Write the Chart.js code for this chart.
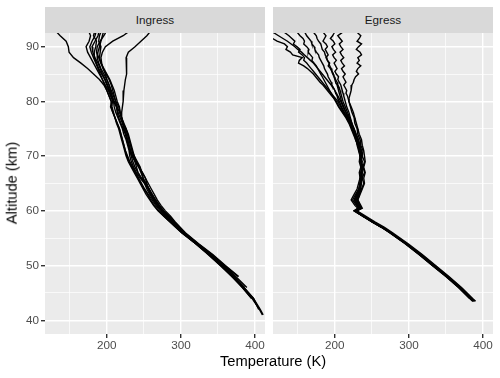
<!DOCTYPE html>
<html>
<head>
<meta charset="utf-8">
<script src="https://cdn.jsdelivr.net/npm/chart.js@4.4.1/dist/chart.umd.min.js"></script>
<style>
  body { margin: 0; background: #fff; }
  #wrap { position: relative; width: 500px; height: 378px; overflow: hidden; font-family: "Liberation Sans", Arial, sans-serif; }
  canvas { position: absolute; top: 0; }
  .strip { position: absolute; top: 7px; height: 26px; width: 220px; background: #D9D9D9; color: #1A1A1A;
           font-size: 11.7px; line-height: 26px; text-align: center; }
  .title { position: absolute; font-size: 14.7px; line-height: 1; color: #000; white-space: nowrap; }
</style>
</head>
<body>
<div id="wrap">
  <canvas id="ingress" width="268" height="378" style="left:0;width:268px;height:378px"></canvas>
  <canvas id="egress" width="232" height="378" style="left:268px;width:232px;height:378px"></canvas>
  <div class="strip" style="left:45px">Ingress</div>
  <div class="strip" style="left:273px">Egress</div>
  <div class="title" style="left:220px;top:354px">Temperature (K)</div>
  <div class="title" style="left:12px;top:183px;transform:translate(-50%,-50%) rotate(-90deg)">Altitude (km)</div>
</div>
<script>
// facet labels
const facets = ['Ingress', 'Egress'];

// axis ticks (major get labels, minor only grid)
const tempTicks = [150, 200, 250, 300, 350, 400];
const altTicks = [40, 45, 50, 55, 60, 65, 70, 75, 80, 85, 90];

// altitude grid for ingress profiles (km)
const ingressAlt = [93, 92, 91, 90, 89, 88, 87, 86, 85, 84, 83, 82, 81, 80,
  79, 78, 77, 76, 75, 74, 73, 72, 71, 70, 69, 68, 67, 66, 65, 64, 63, 62, 61, 60, 59, 58, 57, 56,
  54, 52, 50, 48, 46, 44, 42, 41];

// ingress temperatures (K), one array per occultation
const ing1 = [130, 137, 145, 148, 149, 155, 165, 174, 182, 190, 196, 200, 203, 206,
  207, 209, 211, 214, 217, 219, 221, 223, 225, 227, 230, 234, 238, 242, 246, 250, 255, 259, 264, 270, 277, 285, 293, 301,
  320, 338, 354, 369, 384, 397, 406, 410];
const ing2 = [260, 254, 246, 238, 229, 226, 226, 227, 227, 225, 224, 223, 222, 222,
  221, 220, 220, 222, 226, 229, 231, 233, 235, 237, 240, 244, 248, 252, 256, 260, 264, 268, 273, 279, 286, 292, 299, 306,
  324, 343, 360, 378, null, null, null, null];
const ing3 = [232, 222, 208, 198, 194, 192, 193, 195, 198, 200, 203, 205, 207, 209,
  213, 215, 218, 221, 223, 226, 228, 230, 232, 234, 238, 243, 246, 249, 253, 257, 261, 265, 270, 276, 283, 290, 297, 305,
  323, 341, 357, 372, 386, null, null, null];
const ing4 = [175, 178, 176, 172, 174, 178, 182, 186, 190, 194, 198, 202, 205, 208,
  206, 208, 211, 214, 217, 219, 221, 223, 225, 228, 231, 235, 239, 243, 247, 251, 256, 261, 266, 272, 279, 286, 294, 302,
  320, 337, 353, 369, 385, 398, 407, 411];
const ing5 = [190, 188, 184, 180, 181, 184, 188, 191, 194, 198, 201, 204, 207, 210,
  214, 217, 220, 223, 226, 228, 230, 232, 234, 236, 238, 240, 242, 246, 252, 257, 261, 266, 271, 277, 284, 291, 298, 305,
  323, 342, 359, 377, null, null, null, null];
const ing6 = [196, 194, 192, 190, 188, 187, 189, 192, 196, 200, 203, 206, 209, 212,
  216, 218, 220, 222, 224, 226, 228, 230, 232, 235, 239, 243, 248, 252, 254, 256, 259, 263, 268, 274, 281, 288, 295, 303,
  321, 339, 355, 370, 384, 396, 406, null];
const ing7 = [184, 182, 186, 185, 183, 183, 186, 189, 193, 197, 200, 203, 206, 209,
  210, 212, 215, 218, 221, 223, 226, 228, 230, 231, 233, 236, 240, 245, 251, 256, 261, 265, 270, 275, 282, 289, 296, 304,
  322, 341, 358, 374, 389, null, null, null];
const ing8 = [200, 196, 191, 187, 186, 189, 192, 196, 200, 204, 207, 210, 212, 214,
  217, 218, 220, 222, 225, 228, 230, 232, 234, 237, 241, 245, 247, 249, 251, 254, 258, 263, 268, 274, 281, 288, 295, 303,
  321, 338, 354, 369, 383, 396, null, null];
const ing9 = [186, 184, 180, 177, 179, 182, 185, 188, 191, 194, 197, 200, 203, 206,
  205, 208, 211, 213, 216, 218, 220, 222, 224, 226, 229, 233, 237, 241, 245, 249, 253, 258, 263, 269, 277, 285, 293, 301,
  320, 338, 354, 369, 383, 395, null, null];
const ing10 = [193, 190, 189, 192, 191, 190, 192, 195, 199, 203, 206, 208, 210, 212,
  213, 214, 216, 219, 222, 225, 227, 229, 231, 233, 235, 238, 242, 247, 253, 257, 260, 263, 268, 274, 281, 288, 295, 303,
  321, 339, 356, 371, 385, 398, 405, null];

// altitude grid for egress profiles (km)
const egressAlt = [93, 92.5, 92, 91.5, 91, 90.5, 90, 89.5, 89, 88.5, 88, 87.5, 87, 86.5, 86, 85.5, 85, 84.5, 84,
  83.5, 83, 82.5, 82, 81.5, 81, 80.5, 80,
  79, 78, 77, 76, 75, 74, 73, 72, 71, 70, 69, 68, 67, 66, 65, 64, 63, 62, 61, 60.5, 60, 59.5, 59, 58, 57, 56,
  54, 52, 50, 48, 46, 44, 43.5];

// egress temperatures (K)
const egr1 = [234, 231, 235, 233, 230, 236, 232, 229, 234, 236, 231, 233, 230, 235, 231, 229, 232, 228, 226, 225, 223, 222, 222, 221, 220, 219, 219,
  222, 225, 227, 229, 231, 233, 236, 237, 239, 240, 241, 239, 241, 239, 240, 237, 234, 231, 235, 237, 230, 236, 242, 254, 267, 278,
  299, 318, 336, 354, 371, 386, 390];
const egr2 = [206, 209, 204, 207, 210, 206, 208, 211, 207, 209, 212, 208, 210, 213, 209, 211, 214, 211, 213, 215, 212, 214, 216, 215, 217, 218, 219,
  221, 223, 226, 227, 230, 231, 234, 235, 238, 237, 240, 238, 240, 237, 239, 236, 233, 230, 233, 235, 229, 234, 240, 252, 265, 276,
  297, 316, 334, 352, 369, 384, null];
const egr3 = [196, 199, 197, 194, 198, 200, 196, 198, 201, 197, 199, 202, 199, 201, 203, 200, 202, 205, 204, 206, 208, 209, 210, 211, 212, 213, 214,
  216, 219, 221, 223, 225, 228, 230, 232, 233, 236, 235, 237, 235, 236, 234, 232, 228, 224, 229, 232, 226, 232, 238, 251, 264, 275,
  296, 316, 334, 352, 369, 384, 387];
const egr4 = [170, 172, 175, 176, 178, 181, 182, 183, 186, 187, 189, 190, 192, 193, 195, 196, 198, 199, 200, 201, 203, 204, 205, 206, 207, 208, 209,
  212, 215, 218, 221, 224, 227, 228, 231, 233, 234, 236, 235, 237, 235, 234, 233, 231, 229, 232, 234, 228, 233, 239, 251, 263, 274,
  295, 314, 332, 350, 367, 382, null];
const egr5 = [157, 160, 162, 165, 168, 169, 172, 173, 175, 178, 179, 181, 183, 185, 186, 188, 190, 191, 193, 195, 196, 198, 200, 201, 203, 204, 206,
  209, 213, 217, 220, 223, 226, 229, 230, 232, 234, 233, 235, 233, 234, 232, 230, 226, 222, 227, 231, 226, 232, 239, 252, 265, 276,
  297, 317, 335, 353, 370, 385, 389];
const egr6 = [146, 150, 153, 157, 159, 158, 162, 165, 164, 167, 170, 169, 172, 175, 177, 179, 181, 183, 185, 187, 189, 191, 193, 195, 197, 199, 201,
  205, 210, 215, 219, 222, 225, 228, 231, 233, 235, 236, 238, 236, 237, 235, 235, 233, 231, 234, 236, 229, 234, 240, 251, 264, 275,
  296, 315, 333, 351, 368, 383, 387];
const egr7 = [128, 133, 138, 142, 146, 144, 149, 153, 151, 156, 159, 158, 162, 165, 168, 171, 174, 177, 180, 183, 186, 189, 192, 195, 198, 201, 204,
  208, 212, 217, 221, 225, 228, 231, 233, 235, 237, 235, 237, 235, 236, 234, 233, 230, 227, 230, 233, 227, 233, 239, 250, 263, 275,
  296, 315, 333, 351, 368, 383, null];
const egr8 = [105, 110, 114, 116, 122, 132, 136, 134, 140, 143, 156, 152, 151, 158, 163, 167, 171, 174, 177, 180, 184, 187, 190, 193, 196, 199, 202,
  206, 211, 216, 220, 223, 226, 229, 231, 233, 234, 236, 235, 237, 235, 236, 234, 231, 228, 231, 234, 227, 233, 238, 250, 263, 274,
  295, 314, 332, 350, 367, 382, 386];
const egr9 = [112, 118, 124, 130, 136, 141, 146, 150, 155, 159, 163, 167, 171, 174, 177, 180, 183, 186, 189, 192, 195, 198, 200, 202, 204, 206, 208,
  211, 215, 219, 222, 226, 229, 232, 234, 236, 235, 237, 235, 236, 234, 235, 233, 229, 226, 230, 233, 227, 233, 239, 251, 264, 276,
  297, 316, 334, 352, 369, 384, 388];
const egr10 = [187, 185, 188, 186, 184, 188, 190, 187, 189, 191, 188, 190, 193, 191, 194, 196, 198, 199, 201, 203, 204, 206, 207, 208, 209, 210, 211,
  214, 217, 220, 223, 226, 228, 230, 232, 234, 236, 235, 237, 236, 237, 235, 234, 232, 229, 231, 234, 228, 233, 239, 251, 264, 275,
  296, 315, 333, 351, 368, 383, 387];

const ingressProfiles = [ing1, ing2, ing3, ing4, ing5, ing6, ing7, ing8, ing9, ing10];
const egressProfiles = [egr1, egr2, egr3, egr4, egr5, egr6, egr7, egr8, egr9, egr10];

const FONT = '"Liberation Sans", Arial, sans-serif';

function toPoints(alts, temps) {
  return temps.map((t, i) => t == null ? null : { x: t, y: alts[i] }).filter(p => p);
}

// grey panel background like ggplot
const panelBg = {
  id: 'panelBg',
  beforeDraw(chart) {
    const a = chart.chartArea, ctx = chart.ctx;
    ctx.save();
    ctx.fillStyle = '#EBEBEB';
    ctx.fillRect(a.left, a.top, a.right - a.left, a.bottom - a.top);
    ctx.restore();
  }
};

function makeChart(id, alts, profiles, showY, padRight) {
  const datasets = profiles.map((p, i) => ({
    label: 'p' + i,
    data: toPoints(alts, p),
    showLine: true,
    borderColor: '#000',
    borderWidth: 1.4,
    pointRadius: 0,
    tension: 0
  }));
  return new Chart(document.getElementById(id), {
    type: 'scatter',
    data: { datasets: datasets },
    plugins: [panelBg],
    options: {
      responsive: false,
      animation: false,
      devicePixelRatio: 1,
      layout: { padding: { top: 33, right: padRight, bottom: 0, left: 0 } },
      plugins: { legend: { display: false }, tooltip: { enabled: false } },
      scales: {
        x: {
          type: 'linear', min: 116.5, max: 413.5,
          afterBuildTicks: s => { s.ticks = tempTicks.map(v => ({ value: v })); },
          afterFit: s => { s.height = 44; },
          border: { display: false },
          grid: {
            color: '#FFFFFF',
            lineWidth: c => (c.tick && c.tick.value % 100 === 0) ? 1.4 : 0.7,
            drawTicks: true,
            tickLength: 4,
            tickWidth: 1.4,
            tickColor: c => (c.tick && c.tick.value % 100 === 0) ? '#333333' : 'rgba(0,0,0,0)'
          },
          ticks: {
            color: '#4D4D4D', padding: 1,
            font: { family: FONT, size: 11.7 },
            maxRotation: 0, autoSkip: false,
            callback: v => v % 100 === 0 ? String(v) : ''
          }
        },
        y: {
          type: 'linear', min: 37.5, max: 92.5,
          afterBuildTicks: s => { s.ticks = altTicks.map(v => ({ value: v })); },
          afterFit: s => { s.width = showY ? 45 : 5; },
          border: { display: false },
          grid: {
            color: '#FFFFFF',
            lineWidth: c => (c.tick && c.tick.value % 10 === 0) ? 1.4 : 0.7,
            drawTicks: showY,
            tickLength: 4,
            tickWidth: 1.4,
            tickColor: c => (c.tick && c.tick.value % 10 === 0) ? '#333333' : 'rgba(0,0,0,0)'
          },
          ticks: {
            display: showY,
            color: '#4D4D4D', padding: 2,
            font: { family: FONT, size: 11.7 },
            autoSkip: false,
            callback: v => v % 10 === 0 ? String(v) : ''
          }
        }
      }
    }
  });
}

makeChart('ingress', ingressAlt, ingressProfiles, true, 3);
makeChart('egress', egressAlt, egressProfiles, false, 7);
</script>
</body>
</html>
